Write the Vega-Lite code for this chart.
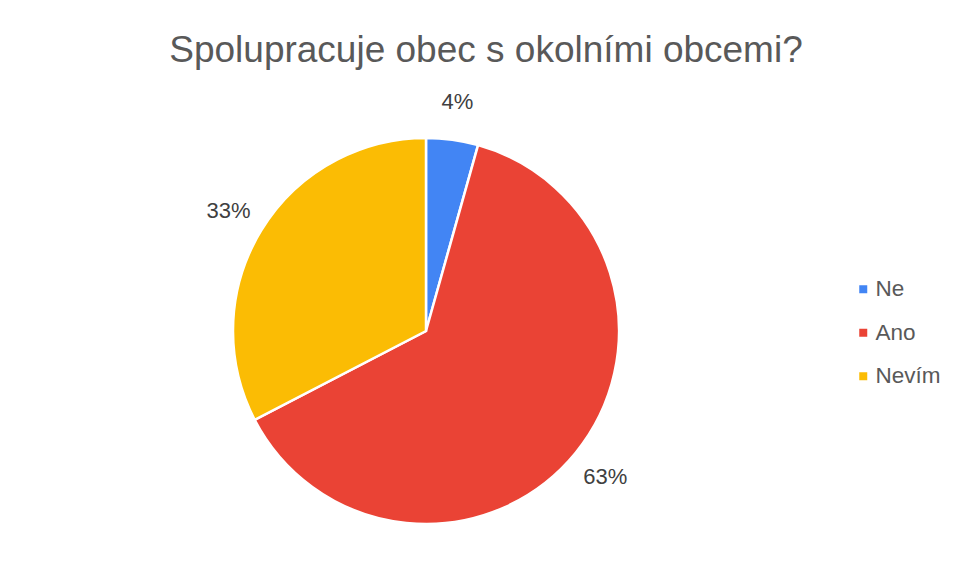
{
  "$schema": "https://vega.github.io/schema/vega-lite/v6.json",
  "autosize": "none",
  "padding": {"left": 8, "top": 90, "right": 113, "bottom": 6},
  "width": 836,
  "height": 482,
  "background": "white",
  "title": {
    "text": "Spolupracuje obec s okolními obcemi?",
    "font": "Liberation Sans",
    "fontSize": 37,
    "fontWeight": "normal",
    "color": "#595959",
    "anchor": "middle",
    "dx": 60,
    "offset": 20
  },
  "config": {
    "view": {"stroke": null},
    "font": "Liberation Sans"
  },
  "data": {
    "values": [
      {"odpoved": "Ne", "pocet": 2, "poradi": 1, "label": "4%"},
      {"odpoved": "Ano", "pocet": 29, "poradi": 2, "label": "63%"},
      {"odpoved": "Nevím", "pocet": 15, "poradi": 3, "label": "33%"}
    ]
  },
  "encoding": {
    "theta": {"field": "pocet", "type": "quantitative", "stack": true},
    "order": {"field": "poradi", "type": "quantitative"}
  },
  "layer": [
    {
      "mark": {"type": "arc", "outerRadius": 193, "stroke": "white", "strokeWidth": 2.5},
      "encoding": {
        "color": {
          "field": "odpoved",
          "type": "nominal",
          "scale": {"domain": ["Ne", "Ano", "Nevím"], "range": ["#4285F4", "#EA4335", "#FBBC04"]},
          "legend": {
            "title": null,
            "orient": "none",
            "legendX": 844,
            "legendY": 188,
            "symbolType": "square",
            "symbolSize": 64,
            "symbolStrokeWidth": 0,
            "labelFontSize": 22.5,
            "labelColor": "#595959",
            "labelFont": "Liberation Sans",
            "labelOffset": 1,
            "rowPadding": 20.5
          }
        }
      }
    },
    {
      "mark": {"type": "text", "radius": 231, "fontSize": 22, "color": "#404040", "font": "Liberation Sans"},
      "encoding": {
        "text": {"field": "label", "type": "nominal"}
      }
    }
  ]
}
